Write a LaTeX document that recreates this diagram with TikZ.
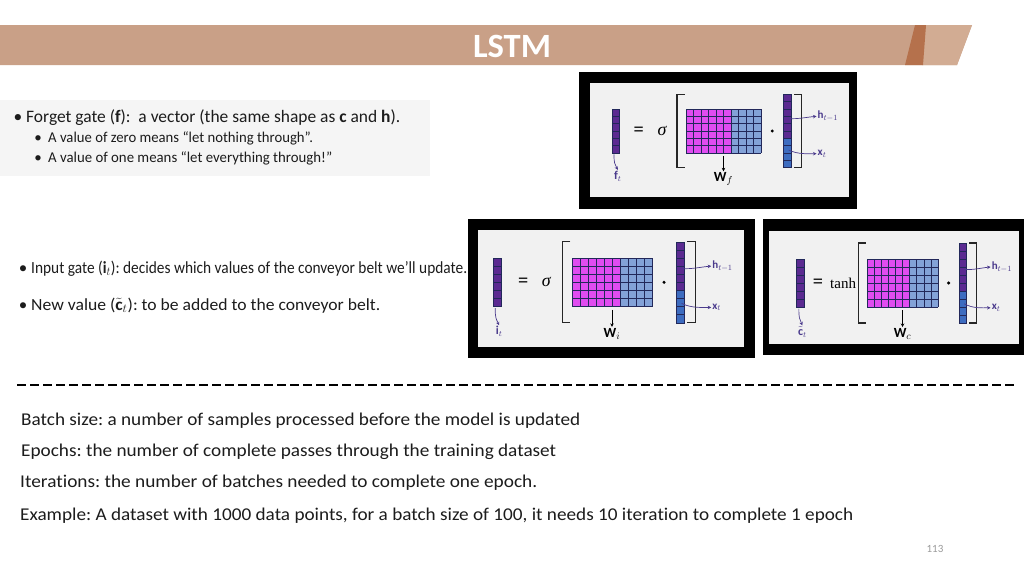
\documentclass[tikz,border=0pt]{standalone}
\usepackage{fontspec}
\usepackage{graphicx}
\setmainfont{Carlito}[Ligatures=NoCommon]
\newfontfamily\serifop{Liberation Serif}
\frenchspacing
\usetikzlibrary{arrows.meta}
\definecolor{banner}{HTML}{C9A087}
\definecolor{bannerdark}{HTML}{B5714C}
\definecolor{bannerlight}{HTML}{D2AC93}
\definecolor{mag}{HTML}{E04CF0}
\definecolor{lblue}{HTML}{83A2D8}
\definecolor{vpurple}{HTML}{5B2A91}
\definecolor{vblue}{HTML}{3D6CC0}
\definecolor{gridc}{HTML}{22285A}
\definecolor{arrc}{HTML}{4A3A8C}
\definecolor{panelbg}{HTML}{F1F1F1}
\definecolor{textbg}{HTML}{F5F5F5}
\definecolor{pagenum}{HTML}{9A9A9A}
\definecolor{ink}{HTML}{1C1C1C}
\tikzset{
  txt/.style={anchor=base west, inner sep=0pt, text=ink, font=\fontsize{17.5}{20}\selectfont},
  subtxt/.style={anchor=base west, inner sep=0pt, text=ink, font=\fontsize{15}{17}\selectfont},
  midtxt/.style={anchor=base west, inner sep=0pt, text=ink, font=\fontsize{17}{19}\selectfont},
  bottxt/.style={anchor=base west, inner sep=0pt, text=ink, font=\fontsize{18}{20}\selectfont},
  gline/.style={draw=gridc, line width=0.45pt},
  brk/.style={draw=black!85, line width=1.3pt},
  arr/.style={draw=arrc, line width=0.7pt, -{Stealth[length=3.5pt,width=3.5pt]}},
  warr/.style={draw=black, line width=0.7pt, -{Stealth[length=3.5pt,width=3.5pt]}},
  lbl/.style={inner sep=1pt, text=arrc, font=\fontsize{11}{12}\selectfont},
  outlbl/.style={inner sep=1pt, text=arrc, font=\fontsize{12}{13}\selectfont},
  wlbl/.style={inner sep=1pt, text=black, font=\fontsize{14}{15}\selectfont},
  op/.style={inner sep=0pt, text=black, font=\fontsize{18}{19}\selectfont\serifop},
  eqshift/.style={},
  fnshift/.style={},
}
% #1 prefix, #2 mx, #3 my, #4 cell width, #5 cell height, #6 function, #7 output label, #8 W label
\newcommand\gatepanel[8]{%
  \begin{scope}[shift={(#2,#3)}, x=#4pt, y=-#5pt]
    % output vector
    \fill[vpurple] (-9.9,0) rectangle (-8.9,6);
    \foreach \j in {1,...,5} \draw[gline] (-9.9,\j) -- (-8.9,\j);
    \draw[gline] (-9.9,0) rectangle (-8.9,6);
    \node[op, eqshift] (#1eq) at (-6.3,3) {\bfseries =};
    \node[op, fnshift] (#1fn) at (-3.2,3) {#6};
    % brackets
    \draw[brk] (-0.2,-2) -- (-1.2,-2) -- (-1.2,8) -- (-0.2,8);
    \draw[brk] (14.4,-2) -- (15.4,-2) -- (15.4,8) -- (14.4,8);
    % weight matrix
    \fill[mag] (0,0) rectangle (6,6);
    \fill[lblue] (6,0) rectangle (10,6);
    \foreach \i in {0,...,10} \draw[gline] (\i,0) -- (\i,6);
    \foreach \j in {0,...,6} \draw[gline] (0,\j) -- (10,\j);
    % dot
    \fill[black] (11.5,3) circle (1.7pt);
    \coordinate (#1dot) at (11.5,3);
    % concatenated input vector
    \fill[vpurple] (13,-2) rectangle (14,4);
    \fill[vblue] (13,4) rectangle (14,8);
    \foreach \j in {-1,...,7} \draw[gline] (13,\j) -- (14,\j);
    \draw[gline] (13,-2) rectangle (14,8);
    % arrows and labels
    \coordinate (#1hs) at (13.7,1.3);
    \node[lbl, anchor=west] (#1hl) at (17.4,1.0) {$\mathbf{h}_{t-1}$};
    \draw[arr] (#1hs) .. controls +(1.2,0.1) and +(-1.2,0.1) .. (#1hl.west);
    \coordinate (#1xs) at (13.7,5.6);
    \node[lbl, anchor=west] (#1xl) at (17.4,6.1) {$\mathbf{x}_{t}$};
    \draw[arr] (#1xs) .. controls +(1.2,0.6) and +(-1.2,0) .. (#1xl.west);
    \coordinate (#1os) at (-9.6,6.2);
    \node[outlbl, anchor=north] (#1ol) at (-9.1,8.3) {$#7$};
    \draw[arr] (#1os) .. controls +(0,1.2) and +(-0.4,-0.8) .. (#1ol.north);
    \coordinate (#1ws) at (5,6.4);
    \node[wlbl, anchor=north] (#1wl) at (5,8.5) {$#8$};
    \draw[warr] (#1ws) -- (#1wl.north);
  \end{scope}}

\begin{document}
\begin{tikzpicture}[x=1pt, y=-1pt]
\useasboundingbox (0,0) rectangle (1024,576);
\fill[white] (0,0) rectangle (1024,576);
% banner
\fill[banner] (0,25) -- (972,25) -- (957,65) -- (0,65) -- cycle;
\fill[bannerlight] (925,25) -- (972,25) -- (957,65) -- (922,65) -- cycle;
\fill[bannerdark] (915,25) -- (926,25) -- (923,65) -- (905,65) -- cycle;
\node[text=white, font=\fontsize{34}{36}\selectfont\bfseries, inner sep=0pt] (title) at (512,46) {\resizebox{78pt}{\height}{LSTM}};

% top-left text block
\fill[textbg] (0,100) rectangle (430,176);
\node[txt, anchor=base] (b1) at (18,122) {•};
\node[txt] (t1) at (26,122) {\resizebox{374pt}{\height}{Forget gate ($\mathbf{f}$):\ \ a vector (the same shape as $\mathbf{c}$ and $\mathbf{h}$).}};
\node[subtxt, anchor=base] (b2) at (38,142) {•};
\node[subtxt] (t2) at (48,142) {\resizebox{265pt}{\height}{A value of zero means “let nothing through”.}};
\node[subtxt, anchor=base] (b3) at (38,162) {•};
\node[subtxt] (t3) at (48,162) {\resizebox{284pt}{\height}{A value of one means “let everything through!”}};

% middle texts
\node[midtxt, anchor=base] (b4) at (23,273) {•};
\node[midtxt] (t4) at (31,273) {\resizebox{436pt}{\height}{Input gate ($\mathbf{i}_t$): decides which values of the conveyor belt we’ll update.}};
\node[midtxt, anchor=base] (b5) at (23,310) {•};
\node[midtxt] (t5) at (31,310) {\resizebox{349pt}{\height}{New value ($\tilde{\mathbf{c}}_t$): to be added to the conveyor belt.}};

% frames
\fill[black] (579,72) rectangle (857,209);
\fill[panelbg] (590,83) rectangle (849,197);
\fill[black] (468,219) rectangle (755,358);
\fill[panelbg] (478,230) rectangle (744,347);
\fill[black] (763,219) rectangle (1024,355);
\fill[panelbg] (769,231) rectangle (1019,344);

\gatepanel{fg}{686}{109}{7.5}{7.33}{\itshape σ}{\mathbf{f}_t}{\mathbf{W}_f}
\tikzset{eqshift/.style={xshift=1.6pt}}
\gatepanel{ig}{572}{258}{8}{8.1}{\itshape σ}{\mathbf{i}_t}{\mathbf{W}_i}
\tikzset{eqshift/.style={xshift=-4.3pt}, fnshift/.style={xshift=-1.2pt, font=\fontsize{15}{16}\selectfont\serifop}}
\gatepanel{nc}{867}{259}{7.1}{8}{tanh}{\tilde{\mathbf{c}}_t}{\mathbf{W}_c}

% dashed separator
\draw[dash pattern=on 9pt off 4pt, line width=1.1pt] (17,385) -- (1015,385);

% bottom text
\node[bottxt] (l1) at (21,425) {\resizebox{559pt}{\height}{Batch size: a number of samples processed before the model is updated}};
\node[bottxt] (l2) at (21,456) {\resizebox{535pt}{\height}{Epochs: the number of complete passes through the training dataset}};
\node[bottxt] (l3) at (20,487) {\resizebox{517pt}{\height}{Iterations: the number of batches needed to complete one epoch.}};
\node[bottxt] (l4) at (20,520) {\resizebox{833pt}{\height}{Example: A dataset with 1000 data points, for a batch size of 100, it needs 10 iteration to complete 1 epoch}};
\node[text=pagenum, font=\fontsize{11}{12}\selectfont, inner sep=0pt] (pn) at (935,549) {113};
\end{tikzpicture}
\end{document}
